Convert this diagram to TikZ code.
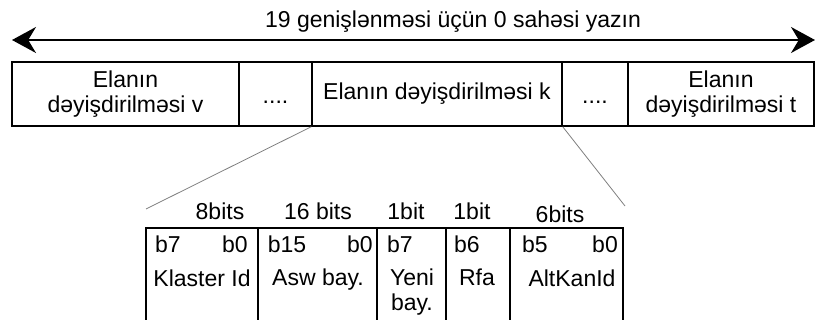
\documentclass[tikz,border=0pt]{standalone}
\usepackage{fontspec}
\setmainfont{Liberation Sans}
\usetikzlibrary{arrows.meta}

\tikzset{
  cell/.style={draw, line width=1.5pt, inner sep=0pt, align=center},
  field/.style={draw, line width=1.2pt, inner sep=0pt, minimum height=132pt},
  txt/.style={inner sep=0pt, align=center}
}

\begin{document}
\begin{tikzpicture}[x=1pt, y=-1pt, font=\fontsize{23}{25}\selectfont]
        \clip (0,0) rectangle (815,320);
        \fill[white] (0,0) rectangle (815,320);

        % width arrow
        \coordinate (AL) at (12,40);
        \coordinate (AR) at (815,40);
        \draw[{Stealth[length=24pt, width=26pt]}-{Stealth[length=24pt, width=26pt]}, line width=2pt] (AL) -- (AR);
        \node[txt] (title) at (453,22) {19 genişlənməsi üçün 0 sahəsi yazın};

        % top row
        \node[cell, minimum width=227pt, minimum height=64pt] (V) at (125.5,94) {Elanın\\dəyişdirilməsi v};
        \node[cell, minimum width=73pt, minimum height=64pt] (D1) at (275.5,94) {};
        \node[cell, minimum width=250pt, minimum height=64pt] (K) at (437,94) {Elanın dəyişdirilməsi k};
        \node[cell, minimum width=66pt, minimum height=64pt] (D2) at (595,94) {};
        \node[cell, minimum width=186pt, minimum height=64pt] (T) at (721,94) {Elanın\\dəyişdirilməsi t};
        \node[txt, anchor=base] at (275.5,104) {....};
        \node[txt, anchor=base] at (595,104) {....};

        % expanded field
        \node[field, minimum width=112pt] (KL) at (202,294) {};
        \node[field, minimum width=119pt] (ASW) at (317.5,294) {};
        \node[field, minimum width=69pt] (YENI) at (411.5,294) {};
        \node[field, minimum width=64pt] (RFA) at (478,294) {};
        \node[field, minimum width=113pt] (ALT) at (566.5,294) {};

        \coordinate (ZL) at (146,209);
        \coordinate (ZR) at (625,206);
        \draw[gray, line width=0.8pt] (K.south west) -- (ZL);
        \draw[gray, line width=0.8pt] (K.south east) -- (ZR);

        % bit counts
        \node[txt] at (220,211) {8bits};
        \node[txt] at (318,211) {16 bits};
        \node[txt] at (406,211) {1bit};
        \node[txt] at (472,211) {1bit};
        \node[txt] at (560,214) {6bits};

        % bit positions
        \node[txt] at (168,244) {b7};
        \node[txt] at (235,244) {b0};
        \node[txt] at (287,244) {b15};
        \node[txt] at (360,244) {b0};
        \node[txt] at (400,244) {b7};
        \node[txt] at (467,244) {b6};
        \node[txt] at (535,244) {b5};
        \node[txt] at (605,244) {b0};

        % field names
        \node[txt] at (202,278) {Klaster Id};
        \node[txt] at (318,280) {Asw bay.};
        \node[txt] at (412,292) {Yeni\\bay.};
        \node[txt] at (477,277) {Rfa};
        \node[txt] at (572,278) {AltKanId};
    \end{tikzpicture}
\end{document}
